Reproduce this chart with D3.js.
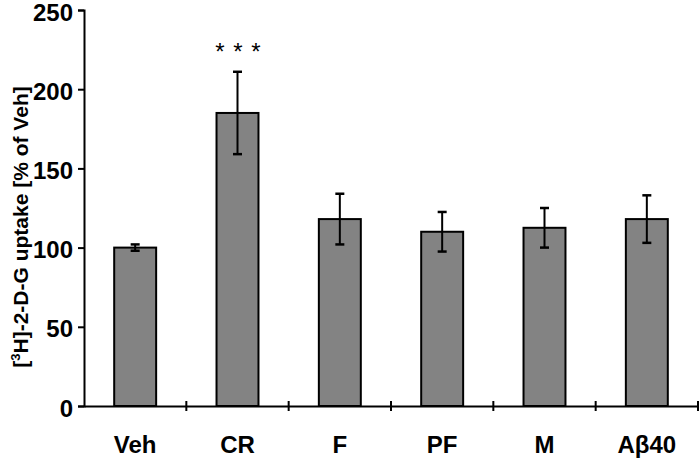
<!DOCTYPE html>
<html>
<head>
<meta charset="utf-8">
<script src="https://cdn.jsdelivr.net/npm/d3@7"></script>
<style>
  body { margin: 0; background: #fff; }
  text { font-family: "Liberation Sans", Arial, sans-serif; }
</style>
</head>
<body>
<div id="chart"></div>
<script>
// values (% of Veh, mean and error)
var groups = ["Veh", "CR", "F", "PF", "M", "Aβ40"];
var uptake = [100, 185, 118, 110, 112.5, 118];
var errors = [2, 26, 16, 12.5, 12.5, 15];
var yTicks = [0, 50, 100, 150, 200, 250];
var marks = ["", "* * *", "", "", "", ""];

var width = 700;
var height = 460;
var margin = { "top": 10, "bottom": 54, "right": 2, "left": 84 };

var svg = d3.select("#chart").append("svg").attr("width", width).attr("height", height);

var x = d3.scaleBand()
    .domain(groups)
    .range([margin.left, width - margin.right])
    .paddingInner(0.59)
    .paddingOuter(0.295);

var y = d3.scaleLinear()
    .domain([0, 250])
    .range([height - margin.bottom, margin.top]);

var gap = (x.step() - x.bandwidth()) / 2;

// bars
svg.append("g")
    .selectAll("rect")
    .data(groups)
    .enter()
    .append("rect")
    .attr("x", function(d) { return x(d); })
    .attr("y", function(d, i) { return y(uptake[i]); })
    .attr("width", x.bandwidth())
    .attr("height", function(d, i) { return y(0) - y(uptake[i]); })
    .attr("fill", "#838383")
    .attr("stroke", "#000")
    .attr("stroke-width", 2);

// error bars
var eb = svg.append("g").attr("stroke", "#000").attr("stroke-width", 2);
groups.forEach(function(d, i) {
    var cx = x(d) + x.bandwidth() / 2;
    var top = y(uptake[i] + errors[i]);
    var bot = y(uptake[i] - errors[i]);
    eb.append("line").attr("x1", cx).attr("x2", cx).attr("y1", top).attr("y2", bot);
    eb.append("line").attr("x1", cx - 4.5).attr("x2", cx + 4.5).attr("y1", top).attr("y2", top).attr("stroke-width", 2.5);
    eb.append("line").attr("x1", cx - 4.5).attr("x2", cx + 4.5).attr("y1", bot).attr("y2", bot).attr("stroke-width", 2.5);
});

// significance stars
svg.append("g")
    .selectAll("text")
    .data(groups)
    .enter()
    .append("text")
    .attr("x", function(d) { return x(d) + x.bandwidth() / 2 + 1; })
    .attr("y", function(d, i) { return y(uptake[i] + errors[i]) - 12; })
    .attr("text-anchor", "middle")
    .style("font-size", "24px")
    .style("letter-spacing", "1px")
    .text(function(d, i) { return marks[i]; });

// y axis
var axisy = d3.axisLeft(y).tickValues(yTicks).tickSize(6).tickPadding(5);
var gy = svg.append("g")
    .attr("transform", "translate(" + margin.left + ",0)")
    .call(axisy);
gy.select(".domain").attr("stroke-width", 2);
gy.selectAll(".tick line").attr("stroke-width", 2);
gy.selectAll(".tick text")
    .style("font-size", "24px")
    .style("font-weight", "bold")
    .attr("fill", "#000")
    .attr("dy", "0.42em");

// x axis: ticks sit on the group boundaries
var axisx = d3.axisBottom(x).tickSize(0).tickPadding(30);
var gx = svg.append("g")
    .attr("transform", "translate(0," + y(0) + ")")
    .call(axisx);
gx.select(".domain").attr("stroke-width", 2);
gx.selectAll(".tick text")
    .style("font-size", "24px")
    .style("font-weight", "bold")
    .attr("fill", "#000");
gx.selectAll(".bound")
    .data(groups)
    .enter()
    .append("line")
    .attr("class", "bound")
    .attr("x1", function(d) { return x(d) + x.bandwidth() + gap; })
    .attr("x2", function(d) { return x(d) + x.bandwidth() + gap; })
    .attr("y1", -5)
    .attr("y2", 5)
    .attr("stroke", "#000")
    .attr("stroke-width", 2);

// y title
var title = svg.append("text")
    .attr("transform", "translate(28,227) rotate(-90)")
    .attr("text-anchor", "middle")
    .style("font-size", "21px")
    .style("font-weight", "bold");
title.append("tspan").text("[");
title.append("tspan").text("3").style("font-size", "13px").attr("dy", -8);
title.append("tspan").text("H]-2-D-G uptake [% of Veh]").attr("dy", 8);
</script>
</body>
</html>
